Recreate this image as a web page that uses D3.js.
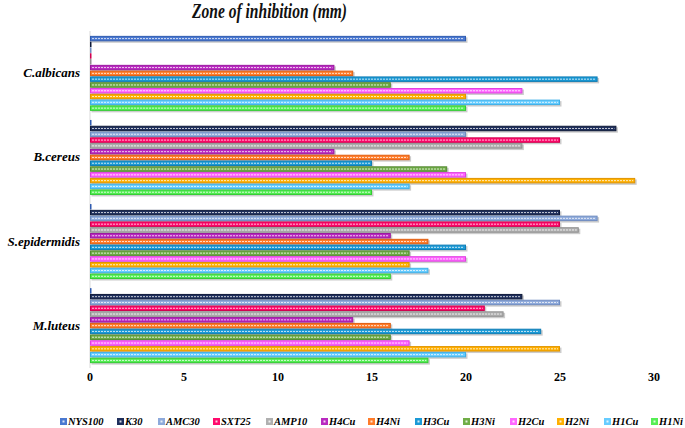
<!DOCTYPE html>
<html><head><meta charset="utf-8">
<script src="https://cdn.jsdelivr.net/npm/d3@7"></script>
<style>body{margin:0;background:#fff}svg{display:block}
.serif{font-family:"Liberation Serif","Times New Roman",serif;}</style>
</head><body><div id="chart"></div>
<script>
const categories = ["C.albicans", "B.cereus", "S.epidermidis", "M.luteus"];
const series = ["NYS100","K30","AMC30","SXT25","AMP10","H4Cu","H4Ni","H3Cu","H3Ni","H2Cu","H2Ni","H1Cu","H1Ni"];
const colors = ["#4a78d0","#1f2f5c","#8eaadb","#ff0a6c","#b0b0b0","#b92ac0","#ff7c2a","#1b9ad6","#70ad47","#ff66ff","#ffb000","#66ccff","#55ee55"];
const strokes = ["#2f5bb0","#0f1a3a","#6f8cc0","#d0004f","#909090","#9a189f","#e05e10","#0f7cb4","#558a32","#e040e0","#e09400","#3fb0e8","#33cc33"];
// values per series, in order of categories
const NYS100 = [20, 0, 0, 0];
const K30    = [0, 28, 25, 23];
const AMC30  = [0, 20, 27, 25];
const SXT25  = [0, 25, 25, 21];
const AMP10  = [0, 23, 26, 22];
const H4Cu   = [13, 13, 16, 14];
const H4Ni   = [14, 17, 18, 16];
const H3Cu   = [27, 15, 20, 24];
const H3Ni   = [16, 19, 17, 16];
const H2Cu   = [23, 20, 20, 17];
const H2Ni   = [20, 29, 17, 25];
const H1Cu   = [25, 17, 18, 20];
const H1Ni   = [20, 15, 16, 18];
const xTicks = [0, 5, 10, 15, 20, 25, 30];
const title = "Zone of inhibition (mm)";

const values = [NYS100,K30,AMC30,SXT25,AMP10,H4Cu,H4Ni,H3Cu,H3Ni,H2Cu,H2Ni,H1Cu,H1Ni];

const W = 685, H = 428;
const m = {left: 90, right: 31, top: 33, bottom: 62};
const svg = d3.select("#chart").append("svg").attr("width", W).attr("height", H);

const x = d3.scaleLinear().domain([0, 30]).range([m.left, W - m.right]);
const y0 = d3.scaleBand().domain(categories).range([m.top, H - m.bottom]).paddingInner(0.1).paddingOuter(0.03);
const y1 = d3.scaleBand().domain(series).range([0, y0.bandwidth()]).padding(0.06);

// left axis line
svg.append("line").attr("x1", x(0)).attr("x2", x(0)).attr("y1", m.top - 2).attr("y2", H - m.bottom + 2)
  .attr("stroke", "#d9d9d9").attr("stroke-width", 1);

const g = svg.append("g");
categories.forEach((c, ci) => {
  series.forEach((s, si) => {
    const v = values[si][ci];
    const yy = y0(c) + y1(s);
    const bh = y1.bandwidth();
    const w = Math.max(x(v) - x(0), 0);
    if (w > 0) g.append("rect").attr("x", x(0) + 1.5).attr("y", yy + 1.5).attr("width", w).attr("height", bh)
      .attr("fill", "#000").attr("opacity", 0.2);
    g.append("rect").attr("x", x(0) + 0.5).attr("y", yy + 0.5).attr("width", Math.max(w - 1, 0.5)).attr("height", bh - 1)
      .attr("fill", colors[si]).attr("stroke", strokes[si]).attr("stroke-width", 1);
    if (w > 3) g.append("line").attr("x1", x(0) + 2).attr("x2", x(0) + w - 2)
      .attr("y1", yy + bh / 2).attr("y2", yy + bh / 2)
      .attr("stroke", "#fff").attr("stroke-width", 1).attr("stroke-dasharray", "2,1").attr("opacity", 0.75);
  });
});

// x axis labels
svg.append("g").selectAll("text").data(xTicks).join("text").attr("class", "serif")
  .attr("x", d => x(d)).attr("y", 381).attr("text-anchor", "middle")
  .attr("font-weight", "bold").attr("font-size", 12).attr("fill", "#000")
  .text(d => d);

// category labels
svg.append("g").selectAll("text").data(categories).join("text").attr("class", "serif")
  .attr("x", 80).attr("y", d => y0(d) + y0.bandwidth() / 2 + 4).attr("text-anchor", "end")
  .attr("font-weight", "bold").attr("font-style", "italic").attr("font-size", 13)
  .attr("fill", "#000").text(d => d);

// title
svg.append("text").attr("class", "serif").attr("x", 192).attr("y", 18)
  .attr("textLength", 155).attr("lengthAdjust", "spacingAndGlyphs")
  .attr("font-weight", "bold").attr("font-style", "italic").attr("font-size", 20)
  .attr("fill", "#111").text(title);

// legend
const legX = [60, 117, 158, 213, 266, 321, 368, 415, 463, 510, 557, 604, 651];
const lg = svg.append("g");
series.forEach((s, i) => {
  const gx = legX[i];
  lg.append("rect").attr("x", gx).attr("y", 418).attr("width", 7).attr("height", 7).attr("fill", colors[i]);
  lg.append("rect").attr("x", gx + 2.5).attr("y", 420.5).attr("width", 2).attr("height", 2).attr("fill", "#fff").attr("opacity", 0.8);
  lg.append("text").attr("class", "serif").attr("x", gx + 8).attr("y", 425).attr("font-weight", "bold")
    .attr("font-style", "italic").attr("font-size", 10.5).attr("fill", "#000").text(s);
});
</script></body></html>
